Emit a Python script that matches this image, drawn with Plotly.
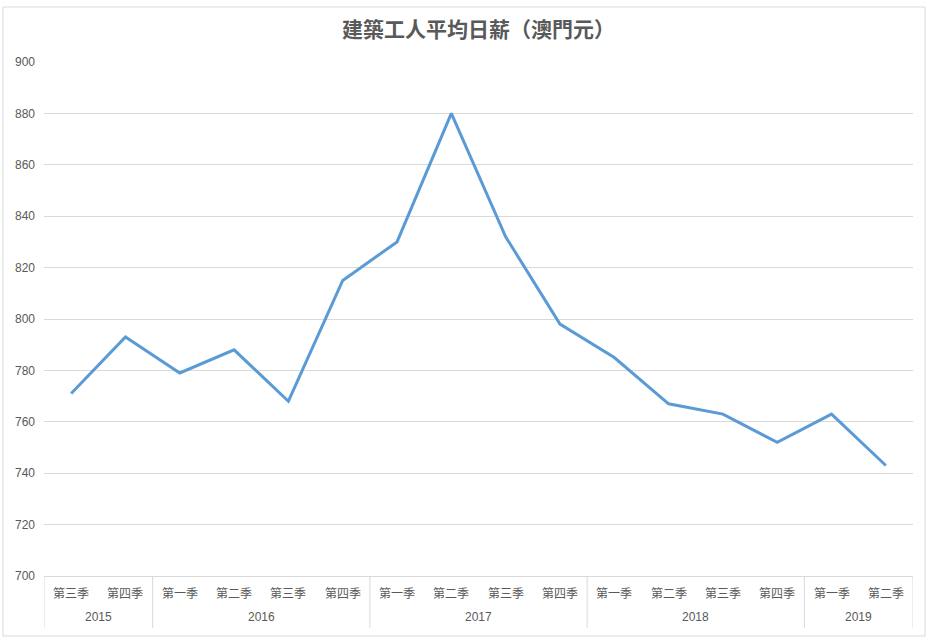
import plotly.graph_objects as go

title = "建築工人平均日薪（澳門元）"
quarters = ["第三季", "第四季",
            "第一季", "第二季", "第三季", "第四季",
            "第一季", "第二季", "第三季", "第四季",
            "第一季", "第二季", "第三季", "第四季",
            "第一季", "第二季"]
years = ["2015", "2016", "2017", "2018", "2019"]
year_counts = [2, 4, 4, 4, 2]
wages = [771, 793, 779, 788, 768, 815, 830, 880, 832, 798, 785, 767, 763, 752, 763, 743]
y_ticks = [700, 720, 740, 760, 780, 800, 820, 840, 860, 880, 900]

W, H = 932, 642
L, R, T, B = 44, 19, 62, 66
pw, ph = W - L - R, H - T - B

x = list(range(len(wages)))
fig = go.Figure()
fig.add_trace(go.Scatter(x=x, y=wages, mode="lines",
                         line=dict(color="#5b9bd5", width=3), hoverinfo="y"))

gray = "#d9d9d9"
txt = "#595959"
cjk = "Noto Sans CJK TC, Noto Sans CJK SC, sans-serif"

annotations = []
for i, q in enumerate(quarters):
    annotations.append(dict(x=i, y=0, xref="x", yref="paper", text=q, showarrow=False,
                            yanchor="middle", yshift=-16,
                            font=dict(family=cjk, size=12, color=txt)))
shapes = []
start = 0
bounds = [-0.5]
for yr, n in zip(years, year_counts):
    center = start + (n - 1) / 2
    annotations.append(dict(x=center, y=0, xref="x", yref="paper", text=yr, showarrow=False,
                            yanchor="middle", yshift=-41,
                            font=dict(family="Liberation Sans, Arial, sans-serif", size=12, color=txt)))
    start += n
    bounds.append(start - 0.5)
for b in bounds:
    shapes.append(dict(type="line", xref="x", yref="paper", x0=b, x1=b, y0=0, y1=-52 / ph,
                       line=dict(color=gray, width=1)))
# outer chart border
shapes.append(dict(type="rect", xref="paper", yref="paper",
                   x0=(3 - L) / pw, x1=(925 - L) / pw,
                   y0=(H - B - 636) / ph, y1=(H - B - 7) / ph,
                   line=dict(color=gray, width=1), fillcolor="rgba(0,0,0,0)", layer="below"))

fig.update_layout(
    width=W, height=H,
    margin=dict(l=L, r=R, t=T, b=B),
    paper_bgcolor="white", plot_bgcolor="white",
    showlegend=False,
    title=dict(text="<b>" + title + "</b>", x=0.5, xref="paper", y=(H - 30) / H, yanchor="middle",
               font=dict(family=cjk, size=21, color=txt)),
    xaxis=dict(range=[-0.5, len(wages) - 0.5], showticklabels=False, showgrid=False,
               zeroline=False, showline=True, linecolor=gray, linewidth=1, ticks=""),
    yaxis=dict(range=[700, 900], tickvals=y_ticks, showgrid=True, gridcolor=gray, gridwidth=1,
               zeroline=False, showline=False, ticks="",
               tickfont=dict(family="Liberation Sans, Arial, sans-serif", size=12, color=txt),
               ticklabelstandoff=8),
    annotations=annotations,
    shapes=shapes,
)
fig.write_html("out.html", config={"displayModeBar": False},
               post_script="document.body.style.margin='0';document.body.style.padding='0';document.body.style.overflow='hidden';")
